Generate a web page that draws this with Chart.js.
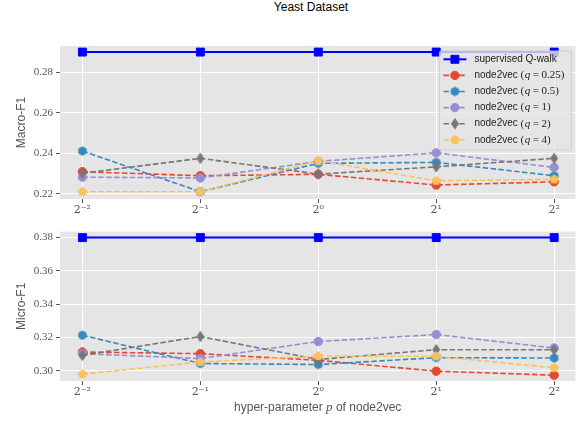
<!DOCTYPE html>
<html>
<head>
<meta charset="utf-8">
<script src="https://cdn.jsdelivr.net/npm/chart.js@4.4.1/dist/chart.umd.min.js"></script>
<style>
html,body{margin:0;padding:0;background:#fff;width:582px;height:424px;overflow:hidden}
#title{position:absolute;left:211px;top:0;width:200px;text-align:center;font:12px "Liberation Sans",sans-serif;line-height:14px;color:#000}
.wrap{position:absolute;left:0;width:582px}
canvas{display:block}
</style>
</head>
<body>
<div id="title">Yeast Dataset</div>
<div class="wrap" style="top:0;height:222px"><canvas id="c1" width="582" height="222"></canvas></div>
<div class="wrap" style="top:222px;height:202px"><canvas id="c2" width="582" height="202"></canvas></div>
<script>
// ---- data ----
const exponents = [-2, -1, 0, 1, 2];            // p = 2^e
const xTickLabels = ['2\u207B\u00B2', '2\u207B\u00B9', '2\u2070', '2\u00B9', '2\u00B2'];
const seriesLabels = ['supervised Q-walk', 'node2vec (q = 0.25)', 'node2vec (q = 0.5)', 'node2vec (q = 1)', 'node2vec (q = 2)', 'node2vec (q = 4)'];

const macroQwalk = [0.290, 0.290, 0.290, 0.290, 0.290];
const macroQ025  = [0.2309, 0.2289, 0.2296, 0.2243, 0.2259];
const macroQ05   = [0.2411, 0.2210, 0.2350, 0.2355, 0.2289];
const macroQ1    = [0.2282, 0.2278, 0.2360, 0.2402, 0.2330];
const macroQ2    = [0.2301, 0.2375, 0.2297, 0.2333, 0.2375];
const macroQ4    = [0.2210, 0.2210, 0.2363, 0.2264, 0.2271];
const macroTicks = [0.22, 0.24, 0.26, 0.28];

const microQwalk = [0.380, 0.380, 0.380, 0.380, 0.380];
const microQ025  = [0.3113, 0.3103, 0.3063, 0.2998, 0.2974];
const microQ05   = [0.3214, 0.3044, 0.3038, 0.3079, 0.3077];
const microQ1    = [0.3103, 0.3074, 0.3176, 0.3218, 0.3137];
const microQ2    = [0.3093, 0.3206, 0.3068, 0.3127, 0.3127];
const microQ4    = [0.2980, 0.3053, 0.3089, 0.3087, 0.3018];
const microTicks = [0.30, 0.32, 0.34, 0.36, 0.38];

// ---- styling ----
const colors = ['#0000FF', '#E24A33', '#348ABD', '#988ED5', '#777777', '#FBC15E'];

function polyMarker(color, n, rx, ry, startDeg) {
  const W = Math.ceil(2 * Math.max(rx, ry) + 3);
  const c = document.createElement('canvas');
  c.width = W; c.height = W;
  const g = c.getContext('2d');
  g.beginPath();
  for (let k = 0; k < n; k++) {
    const a = (startDeg + k * 360 / n) * Math.PI / 180;
    const px = W / 2 + rx * Math.cos(a), py = W / 2 + ry * Math.sin(a);
    if (k === 0) g.moveTo(px, py); else g.lineTo(px, py);
  }
  g.closePath();
  g.fillStyle = color; g.fill();
  g.strokeStyle = color; g.lineWidth = 1; g.stroke();
  return c;
}
const hexMarker = polyMarker(colors[2], 6, 4.3, 4.3, -90);
const diamondMarker = polyMarker(colors[4], 4, 3.4, 5.2, -90);
const pentMarker = polyMarker(colors[5], 5, 4.4, 4.4, -90);

const pointStyles = ['rect', 'circle', hexMarker, 'circle', diamondMarker, pentMarker];
const pointRadii = [5.6, 4.2, 4.5, 4.2, 5, 4.5];

function buildDatasets(series) {
  return series.map((vals, i) => ({
    label: seriesLabels[i],
    data: exponents.map((e, j) => ({ x: e, y: vals[j] })),
    borderColor: colors[i],
    backgroundColor: colors[i],
    pointBackgroundColor: colors[i],
    pointBorderColor: colors[i],
    pointBorderWidth: 1,
    pointStyle: pointStyles[i],
    pointRadius: pointRadii[i],
    borderWidth: i === 0 ? 2 : 1.6,
    borderDash: i === 0 ? [] : [5.5, 2.4],
    tension: 0,
    fill: false,
    order: series.length - i
  }));
}

const bgPlugin = {
  id: 'panelBg',
  beforeDraw(chart) {
    const a = chart.chartArea, ctx = chart.ctx;
    ctx.save();
    ctx.fillStyle = '#E5E5E5';
    ctx.fillRect(a.left, a.top, a.right - a.left, a.bottom - a.top);
    ctx.restore();
  }
};

const legendPlugin = {
  id: 'insideLegend',
  afterDraw(chart) {
    const ctx = chart.ctx, a = chart.chartArea;
    const w = 132, h = 99;
    const left = a.right - 4 - w, top = a.top + 5;
    ctx.save();
    ctx.beginPath();
    if (ctx.roundRect) ctx.roundRect(left, top, w, h, 2); else ctx.rect(left, top, w, h);
    ctx.fillStyle = 'rgba(229,229,229,0.8)';
    ctx.fill();
    ctx.strokeStyle = 'rgba(204,204,204,0.8)';
    ctx.lineWidth = 1;
    ctx.stroke();
    chart.data.datasets.forEach((ds, i) => {
      const y = top + 8.3 + 16.1 * i;
      ctx.save();
      ctx.strokeStyle = ds.borderColor;
      ctx.lineWidth = ds.borderWidth;
      ctx.setLineDash(ds.borderDash);
      ctx.beginPath();
      ctx.moveTo(left + 4, y);
      ctx.lineTo(left + 27, y);
      ctx.stroke();
      ctx.setLineDash([]);
      ctx.fillStyle = ds.pointBackgroundColor;
      ctx.strokeStyle = ds.pointBorderColor;
      ctx.lineWidth = 1;
      Chart.helpers.drawPoint(ctx, { pointStyle: ds.pointStyle, radius: ds.pointRadius, rotation: 0, borderWidth: 1 }, left + 15.5, y);
      ctx.restore();
      // label text
      ctx.fillStyle = '#222';
      ctx.textBaseline = 'middle';
      ctx.textAlign = 'left';
      let x = left + 35;
      const lbl = ds.label;
      const idx = lbl.indexOf('(');
      if (idx < 0) {
        ctx.font = '10px "Liberation Sans"';
        ctx.fillText(lbl, x, y);
      } else {
        const pre = lbl.slice(0, idx);
        const m = lbl.slice(idx); // "(q = 0.25)"
        ctx.font = '10px "Liberation Sans"';
        ctx.fillText(pre, x, y); x += ctx.measureText(pre).width;
        ctx.font = '11px "Liberation Serif"';
        ctx.fillText('(', x, y); x += ctx.measureText('(').width + 0.5;
        ctx.font = 'italic 11px "Liberation Serif"';
        ctx.fillText('q', x, y); x += ctx.measureText('q').width + 2.5;
        ctx.font = '11px "Liberation Serif"';
        const rest = m.slice(2).trim(); // "= 0.25)"
        ctx.fillText('=', x, y); x += ctx.measureText('=').width + 2.5;
        const num = rest.slice(1).trim();
        ctx.fillText(num, x, y);
      }
    });
    ctx.restore();
  }
};

const xTitlePlugin = {
  id: 'xTitle',
  afterDraw(chart) {
    const ctx = chart.ctx, a = chart.chartArea;
    const parts = [
      { t: 'hyper-parameter ', f: '12px "Liberation Sans"' },
      { t: 'p', f: 'italic 13px "Liberation Serif"' },
      { t: ' of node2vec', f: '12px "Liberation Sans"' }
    ];
    ctx.save();
    let total = 0;
    parts.forEach(p => { ctx.font = p.f; p.w = ctx.measureText(p.t).width; total += p.w; });
    let x = (a.left + a.right) / 2 - total / 2;
    const y = a.bottom + 27;
    ctx.fillStyle = '#555';
    ctx.textBaseline = 'middle';
    ctx.textAlign = 'left';
    parts.forEach(p => { ctx.font = p.f; ctx.fillText(p.t, x, y); x += p.w; });
    ctx.restore();
  }
};

function makeChart(id, series, yMin, yMax, yTicks, yTitle, padTop, xAxisH, extraPlugins) {
  return new Chart(document.getElementById(id), {
    type: 'line',
    data: { datasets: buildDatasets(series) },
    options: {
      responsive: false,
      animation: false,
      devicePixelRatio: 1,
      layout: { padding: { top: padTop, right: 4, left: 0, bottom: 0 } },
      plugins: { legend: { display: false }, tooltip: { enabled: false }, title: { display: false } },
      scales: {
        x: {
          type: 'linear',
          min: -2.19,
          max: 2.18,
          afterBuildTicks: s => { s.ticks = exponents.map(v => ({ value: v })); },
          afterFit: s => { s.height = xAxisH; },
          grid: { color: '#FFFFFF', lineWidth: 1, tickColor: '#555555', tickLength: 4, drawTicks: true },
          border: { display: false },
          ticks: {
            autoSkip: false, maxRotation: 0, padding: 1,
            color: '#555555',
            font: { family: '"DejaVu Serif", "Liberation Serif", serif', size: 11 },
            callback: v => xTickLabels[exponents.indexOf(v)]
          }
        },
        y: {
          min: yMin,
          max: yMax,
          afterBuildTicks: s => { s.ticks = yTicks.map(v => ({ value: v })); },
          afterFit: s => { s.width = 60; },
          grid: { color: '#FFFFFF', lineWidth: 1, tickColor: '#555555', tickLength: 4, drawTicks: true },
          border: { display: false },
          ticks: {
            color: '#555555', padding: 3,
            font: { family: '"Liberation Serif", serif', size: 11 },
            callback: v => v.toFixed(2)
          },
          title: {
            display: true, text: yTitle, color: '#555555',
            font: { family: '"Liberation Sans", sans-serif', size: 12 },
            padding: { top: 14, bottom: 0 }
          }
        }
      }
    },
    plugins: [bgPlugin].concat(extraPlugins)
  });
}

makeChart('c1', [macroQwalk, macroQ025, macroQ05, macroQ1, macroQ2, macroQ4],
  0.2174, 0.2930, macroTicks, 'Macro-F1', 46, 23, [legendPlugin]);
makeChart('c2', [microQwalk, microQ025, microQ05, microQ1, microQ2, microQ4],
  0.2939, 0.3836, microTicks, 'Micro-F1', 8, 43, [xTitlePlugin]);
</script>
</body>
</html>
